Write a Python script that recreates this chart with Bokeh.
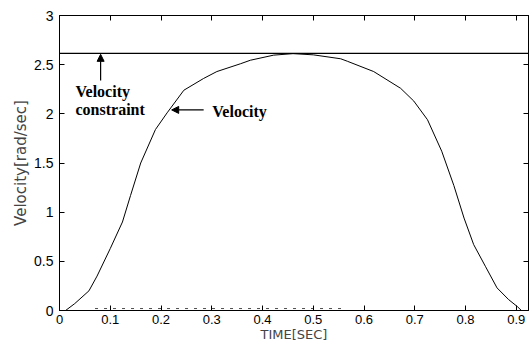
from bokeh.plotting import figure
from bokeh.models import (LinearAxis, Arrow, NormalHead, Label, FixedTicker,
                          Range1d, CustomJSTickFormatter)
from bokeh.embed import file_html
from bokeh.resources import INLINE

# ---- data ----
time_s = [0.0, 0.012, 0.03, 0.058, 0.074, 0.1, 0.124, 0.14, 0.16, 0.189,
          0.212, 0.245, 0.284, 0.31, 0.357, 0.376, 0.422, 0.46, 0.5, 0.554,
          0.567, 0.619, 0.672, 0.698, 0.725, 0.753, 0.777, 0.797, 0.816, 0.839,
          0.862, 0.885, 0.902, 0.91]
velocity = [0.0, 0.0, 0.07, 0.2, 0.35, 0.63, 0.9, 1.17, 1.5, 1.84,
            2.01, 2.24, 2.36, 2.43, 2.51, 2.545, 2.597, 2.612, 2.6, 2.56,
            2.535, 2.43, 2.26, 2.13, 1.94, 1.62, 1.27, 0.94, 0.67, 0.45,
            0.23, 0.11, 0.04, 0.0]
constraint_value = 2.615
constraint_t = [0.0, 0.924]
lower_trace_t = [0.07, 0.56]
lower_trace_v = [0.02, 0.02]
x_ticks = [0.0, 0.1, 0.2, 0.3, 0.4, 0.5, 0.6, 0.7, 0.8, 0.9]
y_ticks = [0.0, 0.5, 1.0, 1.5, 2.0, 2.5, 3.0]

p = figure(width=532, height=344, x_range=Range1d(0, 0.924), y_range=Range1d(0, 3),
           output_backend="svg", toolbar_location=None,
           min_border_left=59, min_border_right=4, min_border_top=15, min_border_bottom=31,
           background_fill_color="white", border_fill_color="white")
p.grid.visible = False
p.outline_line_color = "black"
p.outline_line_width = 1

fmt = CustomJSTickFormatter(code="return String(Math.round(tick*100)/100);")
blank = CustomJSTickFormatter(code="return '';")

def style_axis(ax, ticks, show_labels, font_size):
    ax.ticker = FixedTicker(ticks=ticks)
    ax.major_tick_in = 5
    ax.major_tick_out = 0
    ax.minor_tick_line_color = None
    ax.axis_line_color = "black"
    ax.major_tick_line_color = "black"
    ax.major_label_text_font = "Liberation Sans"
    ax.major_label_text_color = "black"
    ax.major_label_text_font_size = font_size
    if show_labels:
        ax.formatter = fmt
    else:
        ax.formatter = blank
        ax.major_label_standoff = 0

xa = p.xaxis[0]
style_axis(xa, x_ticks, True, "13px")
xa.major_label_standoff = 4
xa.axis_label = "TIME[SEC]"
xa.axis_label_text_font = "DejaVu Sans"
xa.axis_label_text_font_size = "13px"
xa.axis_label_text_font_style = "normal"
xa.axis_label_standoff = 0

ya = p.yaxis[0]
style_axis(ya, y_ticks, True, "14px")
ya.major_label_standoff = 6
ya.axis_label = "Velocity[rad/sec]"
ya.axis_label_text_font = "DejaVu Sans"
ya.axis_label_text_font_size = "15px"
ya.axis_label_text_font_style = "normal"
ya.axis_label_standoff = 1

top = LinearAxis()
style_axis(top, x_ticks, False, "1px")
p.add_layout(top, "above")
right = LinearAxis()
style_axis(right, y_ticks, False, "1px")
p.add_layout(right, "right")

# curves
p.line(time_s, velocity, line_color="black", line_width=1)
p.line(constraint_t, [constraint_value, constraint_value], line_color="black", line_width=1.4)
p.line(lower_trace_t, lower_trace_v, line_color="black", line_width=1, line_dash="3 6", line_alpha=0.7)

# annotations
serif = dict(text_font="Liberation Serif", text_font_style="bold",
             text_font_size="16px", text_color="black", text_baseline="middle")
p.add_layout(Label(x=0.0315, y=2.226, text="Velocity", **serif))
p.add_layout(Label(x=0.0315, y=2.042, text="constraint", **serif))
p.add_layout(Label(x=0.301, y=2.025, text="Velocity", **serif))

p.add_layout(Arrow(end=NormalHead(size=7, fill_color="black", line_color="black"),
                   x_start=0.081, y_start=2.34, x_end=0.081, y_end=2.605,
                   line_color="black", line_width=1.2))
p.add_layout(Arrow(end=NormalHead(size=7, fill_color="black", line_color="black"),
                   x_start=0.284, y_start=2.04, x_end=0.221, y_end=2.04,
                   line_color="black", line_width=1.2))

open("out.html", "w").write(file_html(p, INLINE))
